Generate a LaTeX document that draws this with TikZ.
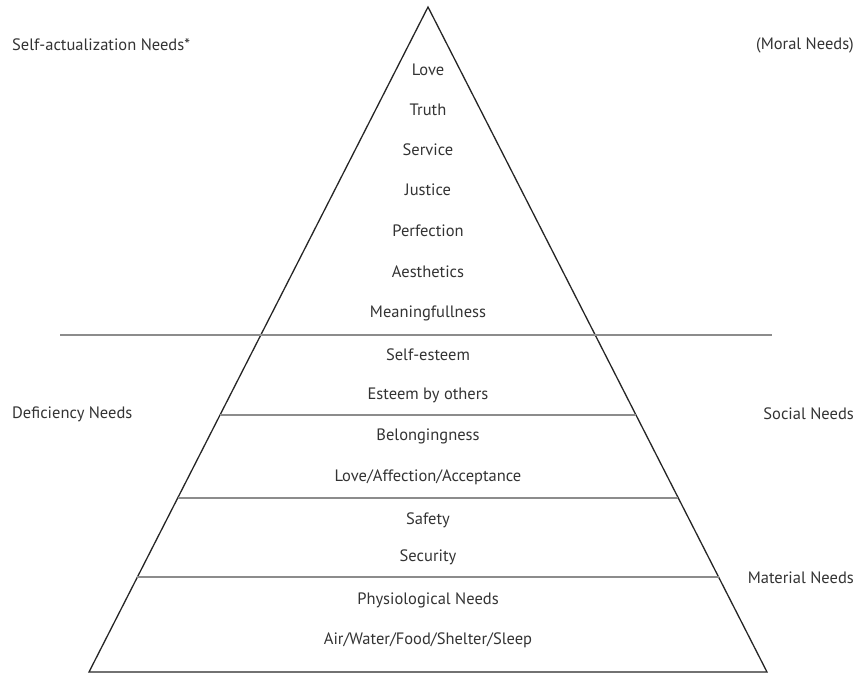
\documentclass[tikz,border=0pt]{standalone}
\usepackage{fontspec}
\setmainfont{PT Sans}
\usetikzlibrary{calc}
\begin{document}
\begin{tikzpicture}[x=1pt,y=-1pt,
  lbl/.style={inner sep=0pt,text=black!80,font=\fontsize{16.5}{18}\selectfont},
  edge/.style={draw=black!85,line width=1.3pt,line join=miter},
  band/.style={draw=black!45,line width=1.4pt}]
\useasboundingbox (0,0) rectangle (859,675);
\coordinate (apex) at (428,7);
\coordinate (bl) at (89,672);
\coordinate (br) at (767,672);
\draw[edge] (bl) -- (apex) -- (br) -- cycle;
% bands
\coordinate (sepL) at (60,335);
\coordinate (sepR) at (772,335);
\draw[band] (sepL) -- (sepR);
\coordinate (aL) at ($(apex)!0.6135!(bl)$);
\coordinate (aR) at ($(apex)!0.6135!(br)$);
\draw[band] (aL) -- (aR);
\coordinate (bL) at ($(apex)!0.7383!(bl)$);
\coordinate (bR) at ($(apex)!0.7383!(br)$);
\draw[band] (bL) -- (bR);
\coordinate (cL) at ($(apex)!0.8571!(bl)$);
\coordinate (cR) at ($(apex)!0.8571!(br)$);
\draw[band] (cL) -- (cR);
% side labels
\node[lbl,anchor=west] (selfact) at (12,45) {Self-actualization Needs*};
\node[lbl,anchor=east] (moral) at (854,45) {(Moral Needs)};
\node[lbl,anchor=west] (defic) at (12,414) {Deficiency Needs};
\node[lbl,anchor=east] (social) at (854,414) {Social Needs};
\node[lbl,anchor=east] (material) at (854,578) {Material Needs};
% inner labels
\node[lbl] (love) at (428,70) {Love};
\node[lbl] (truth) at (428,110) {Truth};
\node[lbl] (service) at (428,150) {Service};
\node[lbl] (justice) at (428,190) {Justice};
\node[lbl] (perfection) at (428,231) {Perfection};
\node[lbl] (aesthetics) at (428,272) {Aesthetics};
\node[lbl] (meaning) at (428,313) {Meaningfullness};
\node[lbl] (selfesteem) at (428,355) {Self-esteem};
\node[lbl] (esteem) at (428,395) {Esteem by others};
\node[lbl] (belong) at (428,436) {Belongingness};
\node[lbl] (affection) at (428,477) {Love/Affection/Acceptance};
\node[lbl] (safety) at (428,520) {Safety};
\node[lbl] (security) at (428,557) {Security};
\node[lbl] (physio) at (428,600) {Physiological Needs};
\node[lbl] (air) at (428,640) {Air/Water/Food/Shelter/Sleep};
\end{tikzpicture}
\end{document}
